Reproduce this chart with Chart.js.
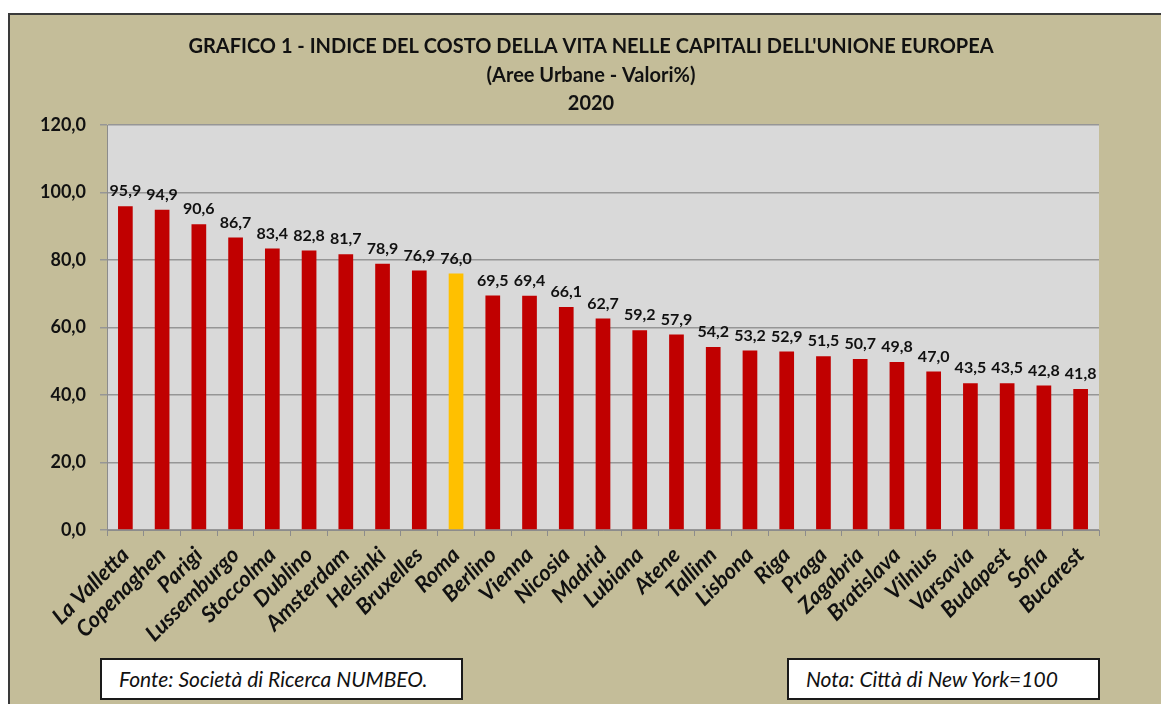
<!DOCTYPE html>
<html><head><meta charset="utf-8">
<script src="https://cdn.jsdelivr.net/npm/chart.js@4"></script>
<style>
html,body{margin:0;padding:0;background:#fff;width:1161px;height:704px;overflow:hidden;font-family:Lato,"Open Sans",sans-serif}
#frame{position:absolute;left:8px;top:13px;width:1170px;height:700px;background:#C4BD99;border:2px solid #3a3a3a;box-sizing:border-box}
#wrap{position:absolute;left:0;top:0;width:1161px;height:704px}
.note{position:absolute;background:#fff;border:2px solid #1a1a1a;box-sizing:border-box;font-style:italic;font-size:21px;color:#111;padding-left:17px;line-height:38px}
</style></head>
<body>
<div id="frame"></div>
<div id="wrap"><canvas id="c" width="1161" height="704"></canvas></div>
<div class="note" style="left:100px;top:658px;width:363px;height:42px">Fonte: Società di Ricerca NUMBEO.</div>
<div class="note" style="left:787px;top:658px;width:313px;height:42px">Nota: Città di New York=100</div>
<script>
const titleLines = ["GRAFICO 1 - INDICE DEL COSTO DELLA VITA NELLE CAPITALI DELL'UNIONE EUROPEA", "(Aree Urbane - Valori%)", "2020"];
const cities = ["La Valletta","Copenaghen","Parigi","Lussemburgo","Stoccolma","Dublino","Amsterdam","Helsinki","Bruxelles","Roma","Berlino","Vienna","Nicosia","Madrid","Lubiana","Atene","Tallinn","Lisbona","Riga","Praga","Zagabria","Bratislava","Vilnius","Varsavia","Budapest","Sofia","Bucarest"];
const values = [95.9,94.9,90.6,86.7,83.4,82.8,81.7,78.9,76.9,76.0,69.5,69.4,66.1,62.7,59.2,57.9,54.2,53.2,52.9,51.5,50.7,49.8,47.0,43.5,43.5,42.8,41.8];
const highlightCity = "Roma";
const yTicks = [0,20,40,60,80,100,120];

const fmt = v => v.toFixed(1).replace('.', ',');
const barColors = cities.map(c => c === highlightCity ? '#FFC000' : '#C00000');

const plotBg = {
  id: 'plotBg',
  beforeDraw(chart) {
    const {ctx, chartArea: a} = chart;
    ctx.save();
    ctx.fillStyle = '#D9D9D9';
    ctx.fillRect(a.left, a.top, a.right - a.left, a.bottom - a.top);
    ctx.restore();
  }
};
const titleBlock = {
  id: 'titleBlock',
  afterDraw(chart) {
    const {ctx} = chart;
    ctx.save();
    ctx.font = 'bold 20px Lato';
    ctx.fillStyle = '#111';
    ctx.textAlign = 'center';
    ctx.textBaseline = 'middle';
    titleLines.forEach((t, i) => ctx.fillText(t, 591, 47 + i * 28.5));
    ctx.restore();
  }
};
const valueLabels = {
  id: 'valueLabels',
  afterDatasetsDraw(chart) {
    const {ctx} = chart;
    const meta = chart.getDatasetMeta(0);
    ctx.save();
    ctx.font = 'bold 16px Lato';
    ctx.fillStyle = '#111';
    ctx.textAlign = 'center';
    ctx.textBaseline = 'bottom';
    meta.data.forEach((bar, i) => {
      ctx.fillText(fmt(chart.data.datasets[0].data[i]), bar.x, bar.y - 7);
    });
    ctx.restore();
  }
};

new Chart(document.getElementById('c'), {
  type: 'bar',
  data: {
    labels: cities,
    datasets: [{ data: values, backgroundColor: barColors, barPercentage: 0.4, categoryPercentage: 1.0 }]
  },
  options: {
    responsive: false,
    animation: false,
    layout: { padding: { left: 20, right: 62, top: 125, bottom: 60 } },
    plugins: {
      legend: { display: false },
      tooltip: { enabled: false },
      title: { display: false }
    },
    scales: {
      x: {
        grid: { display: true, drawOnChartArea: false, offset: true, color: '#8c8c8c', tickLength: 6 },
        border: { color: '#8c8c8c' },
        ticks: { maxRotation: 45, minRotation: 45, autoSkip: false, color: '#111', padding: 6,
                 font: { family: 'Lato', size: 22, weight: 'bold', style: 'italic' } },
        afterFit(s) { s.height = 704 - 530 - 60; }
      },
      y: {
        min: 0, max: 120,
        afterBuildTicks(s) { s.ticks = yTicks.map(v => ({ value: v })); },
        grid: { color: '#969696', lineWidth: 1.5, tickLength: 7 },
        border: { color: '#8c8c8c' },
        ticks: { color: '#111', padding: 14, callback: v => fmt(v),
                 font: { family: 'Lato', size: 18, weight: 'bold' } },
        afterFit(s) { s.width = 107 - 20; }
      }
    }
  },
  plugins: [plotBg, valueLabels, titleBlock]
});
</script>
</body></html>
